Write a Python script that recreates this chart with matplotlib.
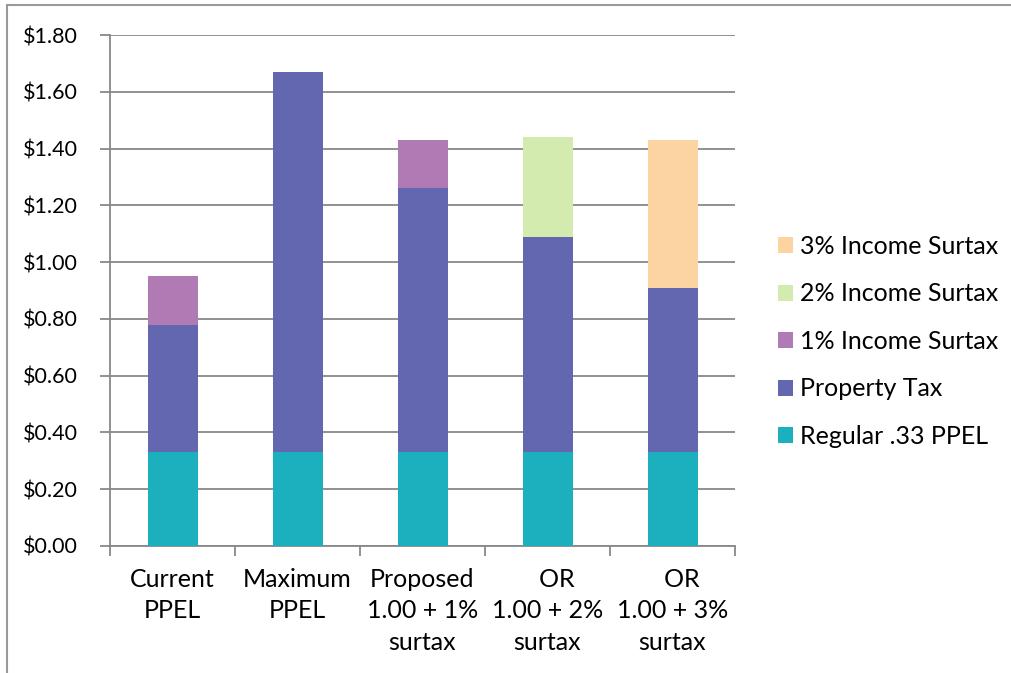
import matplotlib
matplotlib.use("Agg")
import matplotlib.pyplot as plt
from matplotlib.patches import Patch, Rectangle
import numpy as np

plt.rcParams['font.family'] = ['Lato', 'DejaVu Sans']

categories = ["Current\nPPEL", "Maximum\nPPEL", "Proposed\n1.00 + 1%\nsurtax",
              "   OR\n1.00 + 2%\nsurtax", "   OR\n1.00 + 3%\nsurtax"]
regular_ppel = [0.33, 0.33, 0.33, 0.33, 0.33]
property_tax = [0.45, 1.34, 0.93, 0.76, 0.58]
surtax_1 = [0.17, 0.00, 0.17, 0.00, 0.00]
surtax_2 = [0.00, 0.00, 0.00, 0.35, 0.00]
surtax_3 = [0.00, 0.00, 0.00, 0.00, 0.52]
y_ticks = [0.0, 0.2, 0.4, 0.6, 0.8, 1.0, 1.2, 1.4, 1.6, 1.8]

series = [
    ("Regular .33 PPEL", regular_ppel, "#1CAFBD"),
    ("Property Tax", property_tax, "#6367B0"),
    ("1% Income Surtax", surtax_1, "#B07AB4"),
    ("2% Income Surtax", surtax_2, "#D3EBAE"),
    ("3% Income Surtax", surtax_3, "#FBD4A2"),
]

fig = plt.figure(figsize=(10.12, 6.73), dpi=100)
ax = fig.add_axes([110 / 1012, 1 - 546 / 673, 625 / 1012, 511 / 673])

x = np.arange(len(categories))
bottom = np.zeros(len(categories))
for name, vals, color in series:
    v = np.array(vals)
    ax.bar(x, v, width=0.4, bottom=bottom, color=color, label=name, zorder=3)
    bottom += v

grid_c = "#888888"
ax.set_xlim(-0.5, len(categories) - 0.5)
ax.set_ylim(0, 1.8)
ax.set_yticks(y_ticks)
ax.set_yticklabels([f"${t:.2f}" for t in y_ticks], fontsize=15.5)
ax.yaxis.grid(True, color=grid_c, linewidth=1.3, zorder=0)
ax.set_xticks(np.arange(-0.5, len(categories), 1.0))
ax.set_xticklabels([])
ax.set_xticks(x, minor=True)
ax.set_xticklabels(categories, minor=True, fontsize=18, linespacing=1.43)
ax.tick_params(axis='x', which='minor', length=0, pad=16)
ax.tick_params(axis='x', which='major', length=7, width=1.3, color=grid_c)
ax.tick_params(axis='y', length=7, width=1.3, color=grid_c, pad=16)
for s in ["top", "right"]:
    ax.spines[s].set_visible(False)
for s in ["left", "bottom"]:
    ax.spines[s].set_color(grid_c)
    ax.spines[s].set_linewidth(1.3)

handles = [Patch(facecolor=c, label=n) for n, _, c in series][::-1]
fig.legend(handles=handles, loc="upper left", bbox_to_anchor=(768 / 1012, 1 - 225 / 673),
           frameon=False, fontsize=18, labelspacing=0.98, handlelength=0.6,
           handleheight=0.6, handletextpad=0.3, borderaxespad=0)

# outer chart border
fig.patches.append(Rectangle((7 / 1012, -0.01), 1.02, 1 - 5 / 673 + 0.01,
                             transform=fig.transFigure, fill=False,
                             edgecolor="#9a9a9a", linewidth=1.5))

fig.savefig("out.png", dpi=100)
